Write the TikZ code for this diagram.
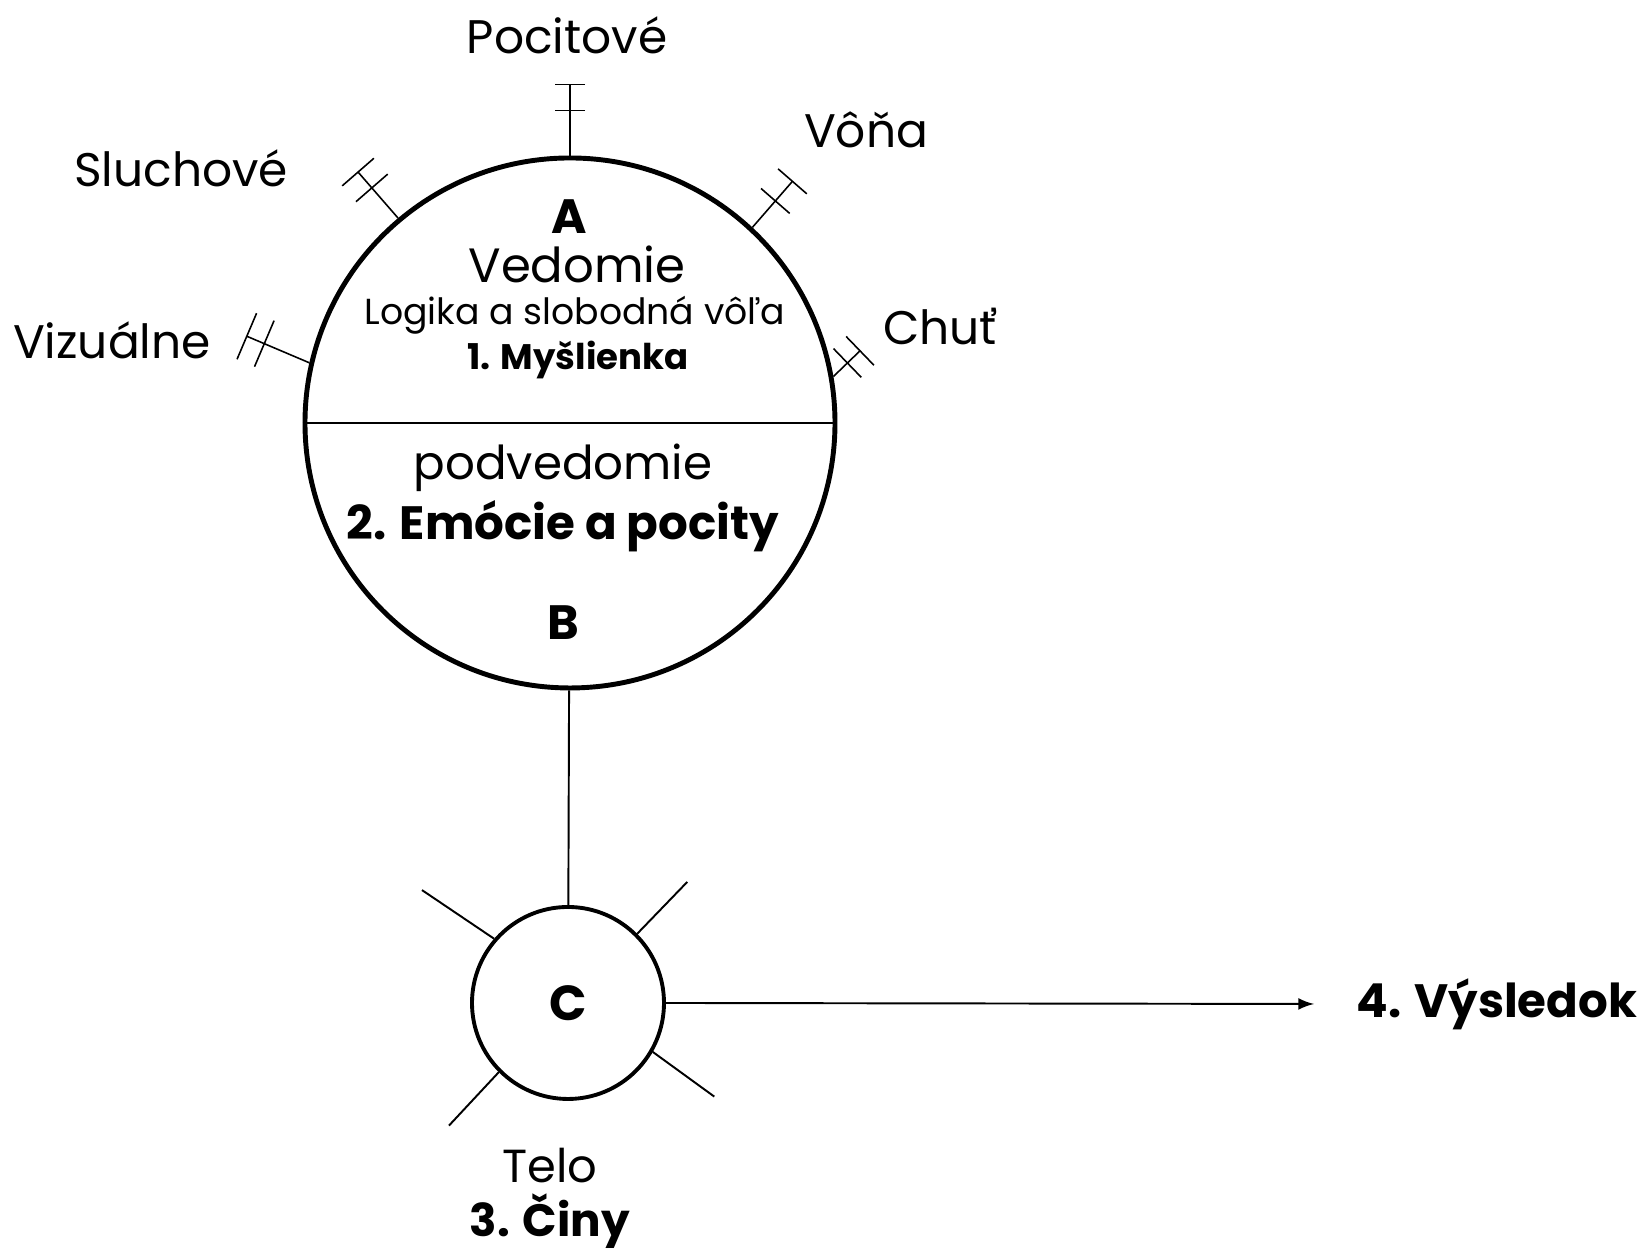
\documentclass[tikz,border=0pt]{standalone}
\usepackage{fontspec}
\setmainfont{Poppins}
\usetikzlibrary{arrows}

\tikzset{
  sense/.style={font=\fontsize{13.4}{16}\selectfont},
  mind/.style={font=\fontsize{13.7}{17}\selectfont},
  heavy/.style={font=\fontsize{13.3}{16}\selectfont\bfseries},
  small/.style={font=\fontsize{10.3}{13}\selectfont},
  feeler/.style={line width=0.45pt},
  ray/.style={line width=0.55pt},
}

\begin{document}
\begin{tikzpicture}
        \useasboundingbox (0,0) rectangle (16.44,12.51);

        \node [circle,draw,line width=1.4pt,minimum size=5.3cm,inner sep=0pt,font=\fontsize{14}{16}\selectfont\bfseries] (big) at (5.70, 8.28) {};
        \node [circle,draw,line width=1.1pt,minimum size=1.92cm,inner sep=0pt,font=\fontsize{14}{16}\selectfont\bfseries] (c) at (5.68, 2.48) {C};
        \node [heavy,anchor=west] (res) at (13.44, 2.47) {4. Výsledok};

        % senses
        \node [sense] (pocit) at (5.67, 12.16) {Pocitové};
        \node [sense] (sluch) at (1.81, 10.83) {Sluchové};
        \node [sense] (vona) at (8.66, 11.21) {Vôňa};
        \node [sense] (vizual) at (1.12, 9.11) {Vizuálne};
        \node [sense] (chut) at (9.40, 9.24) {Chuť};

        % inside the big circle
        \node [mind] (a) at (5.69, 10.34) {\textbf{A}};
        \node [mind] (ved) at (5.77, 9.87) {Vedomie};
        \node [small] (logic) at (5.75, 9.36) {Logika a slobodná vôľa};
        \node [small,font=\fontsize{10.1}{13}\selectfont\bfseries] (thought) at (5.78, 8.91) {1. Myšlienka};
        \node [mind,font=\fontsize{13.3}{16}\selectfont] (podved) at (5.63, 7.83) {podvedomie};
        \node [heavy] (emo) at (5.63, 7.25) {2. Emócie a pocity};
        \node [mind] (b) at (5.63, 6.28) {\textbf{B}};

        % body
        \node [mind,font=\fontsize{13.2}{16}\selectfont] (telo) at (5.50, 0.85) {Telo};
        \node [heavy,font=\fontsize{12.9}{15}\selectfont\bfseries] (deeds) at (5.50, 0.30) {3. Činy};

        \draw [line width=0.6pt] (big.west) -- (big.east);
        \draw [line width=0.55pt] (big) to (c);
        \draw [-latex,line width=0.55pt] (c.east) to ([xshift=-0.30cm]res.west);

        \foreach \p/\d/\l/\m/\w in {90/90/0.71/0.45/0.15, 130/131/0.61/0.40/0.21,
                167/157/0.68/0.49/0.25, 47/49/0.61/0.35/0.19, 10/44/0.37/0.195/0.20} {
            \begin{scope}[shift={(big.\p)},rotate=\d]
                \draw [feeler] (0,0) -- (\l,0);
                \draw [feeler] (\l,-\w) -- (\l,\w);
                \draw [feeler] (\m,-\w) -- (\m,\w);
            \end{scope}
        }

        \draw [ray] (c.139) -- ++(146:0.87);
        \draw [ray] (c.45) -- ++(46:0.72);
        \draw [ray] (c.-30) -- ++(-36:0.76);
        \draw [ray] (c.-135) -- ++(-133:0.73);
\end{tikzpicture}
\end{document}
